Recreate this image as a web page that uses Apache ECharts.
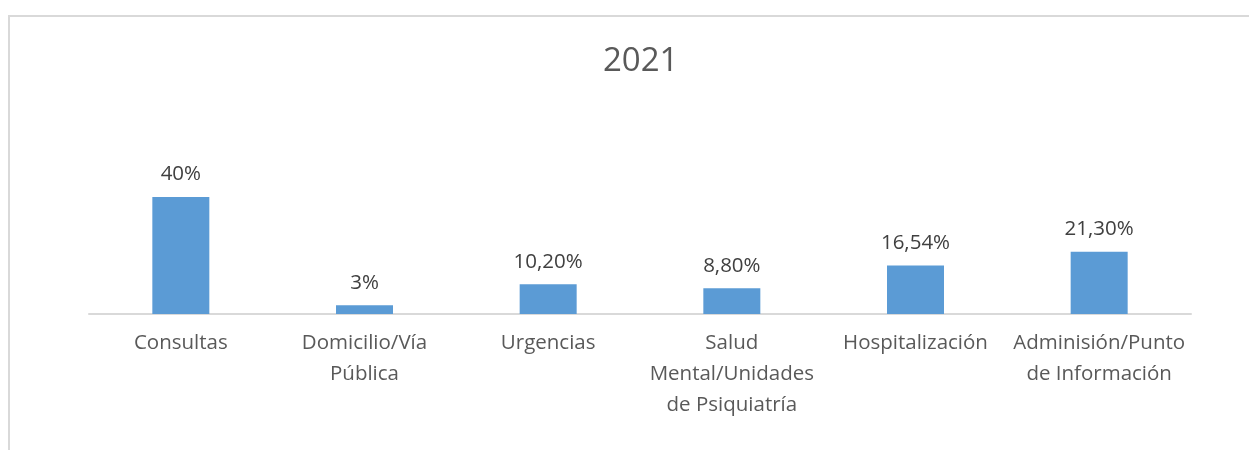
<!DOCTYPE html>
<html>
<head>
<meta charset="utf-8">
<script src="https://cdn.jsdelivr.net/npm/echarts@6/dist/echarts.min.js"></script>
<style>
  html, body { margin: 0; padding: 0; background: #fff; }
  #chart { width: 1249px; height: 450px; }
</style>
</head>
<body>
<div id="chart"></div>
<script>
// 数据
const categories = [
    'Consultas',
    'Domicilio/Vía\nPública',
    'Urgencias',
    'Salud\nMental/Unidades\nde Psiquiatría',
    'Hospitalización',
    'Adminisión/Punto\nde Información'
];
const values = [40, 3, 10.2, 8.8, 16.54, 21.3];
const valueLabels = ['40%', '3%', '10,20%', '8,80%', '16,54%', '21,30%'];
const chartTitle = '2021';

const FONT = '"Open Sans", "Noto Sans", sans-serif';

const myChart = echarts.init(document.getElementById('chart'));

const option = {
    backgroundColor: '#fff',
    animation: false,
    title: {
        text: chartTitle,
        left: 598,
        top: 40,
        textStyle: {
            fontFamily: FONT,
            fontSize: 33,
            fontWeight: 'normal',
            color: '#595959'
        }
    },
    // 外框
    graphic: [{
        type: 'rect',
        shape: { x: 9, y: 16, width: 1260, height: 460 },
        style: { fill: 'none', stroke: '#d9d9d9', lineWidth: 2 },
        silent: true
    }],
    grid: {
        left: 89,
        right: 58,
        top: 197,
        bottom: 136
    },
    xAxis: {
        type: 'category',
        data: categories,
        axisLine: { lineStyle: { color: '#d9d9d9', width: 2 } },
        axisTick: { show: false },
        axisLabel: {
            interval: 0,
            margin: 14,
            fontFamily: FONT,
            fontSize: 20.5,
            lineHeight: 31,
            color: '#595959'
        }
    },
    yAxis: {
        type: 'value',
        min: 0,
        max: 40,
        show: false
    },
    series: [{
        type: 'bar',
        data: values,
        barWidth: 57,
        itemStyle: { color: '#5b9bd5' },
        label: {
            show: true,
            position: 'top',
            distance: 12,
            fontFamily: FONT,
            fontSize: 20.5,
            color: '#404040',
            formatter: function(p) {
                return valueLabels[p.dataIndex];
            }
        }
    }]
};

myChart.setOption(option);
</script>
</body>
</html>
